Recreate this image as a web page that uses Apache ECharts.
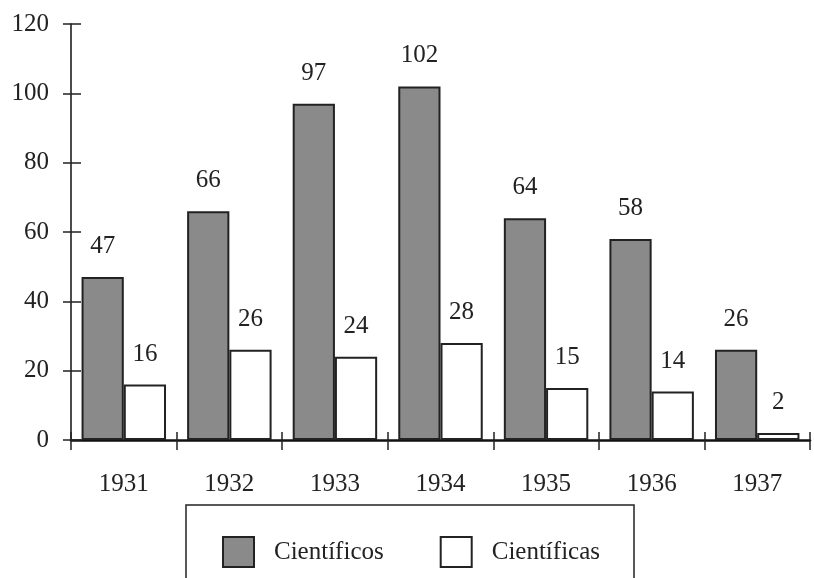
<!DOCTYPE html>
<html><head><meta charset="utf-8">
<script src="https://cdn.jsdelivr.net/npm/echarts@6/dist/echarts.min.js"></script>
<style>html,body{margin:0;padding:0;background:#fff}#c{width:814px;height:578px}</style>
</head><body><div id="c"></div>
<script>
const categories = ['1931','1932','1933','1934','1935','1936','1937'];
const cientificos = [47,66,97,102,64,58,26];
const cientificas = [16,26,24,28,15,14,2];
const yTicks = [0,20,40,60,80,100,120];

const font = 'Liberation Serif';
const chart = echarts.init(document.getElementById('c'));
const lbl = {show:true, position:'top', distance:18, fontFamily:font, fontSize:25, color:'#222'};
chart.setOption({
  animation:false,
  backgroundColor:'#fff',
  grid:{left:71, right:4, top:24, bottom:138},
  legend:{
    left:217, top:531, itemWidth:31, itemHeight:30, itemGap:56,
    textStyle:{fontFamily:font, fontSize:25, color:'#222', padding:[0,0,0,15]},
    data:[
      {name:'Científicos', icon:'rect', itemStyle:{color:'#8a8a8a', borderColor:'#222', borderWidth:2}},
      {name:'Científicas', icon:'rect', itemStyle:{color:'#fff', borderColor:'#222', borderWidth:2}}
    ]
  },
  graphic:[{type:'rect', shape:{x:186, y:505, width:448, height:120}, style:{fill:'none', stroke:'#222', lineWidth:1.5}, z:-1}],
  xAxis:[
    {type:'category', data:categories, position:'bottom',
     axisLine:{lineStyle:{color:'#111', width:2.5}},
     axisTick:{show:true, length:10, lineStyle:{color:'#222', width:1.5}},
     axisLabel:{fontFamily:font, fontSize:25, color:'#222', margin:32}},
    {type:'category', data:categories, position:'bottom',
     axisLine:{show:false}, axisLabel:{show:false},
     axisTick:{show:true, inside:true, length:8, lineStyle:{color:'#222', width:1.5}}}
  ],
  yAxis:[
    {type:'value', min:0, max:120, interval:20, position:'left',
     splitLine:{show:false},
     axisLine:{show:true, lineStyle:{color:'#111', width:1.5}},
     axisTick:{show:true, length:8, lineStyle:{color:'#222', width:1.5}},
     axisLabel:{fontFamily:font, fontSize:25, color:'#222', margin:22,
       formatter:v=>yTicks.includes(v)?String(v):''}},
    {type:'value', min:0, max:120, interval:20, position:'left',
     splitLine:{show:false}, axisLine:{show:false}, axisLabel:{show:false},
     axisTick:{show:true, inside:true, length:10, lineStyle:{color:'#222', width:1.5}}}
  ],
  series:[
    {name:'Científicos', type:'bar', data:cientificos, barWidth:'40%', barGap:'0%',
     itemStyle:{color:'#8a8a8a', borderColor:'#222', borderWidth:2}, label:lbl},
    {name:'Científicas', type:'bar', data:cientificas, barWidth:'40%',
     itemStyle:{color:'#fff', borderColor:'#222', borderWidth:2}, label:lbl}
  ]
});
</script></body></html>
